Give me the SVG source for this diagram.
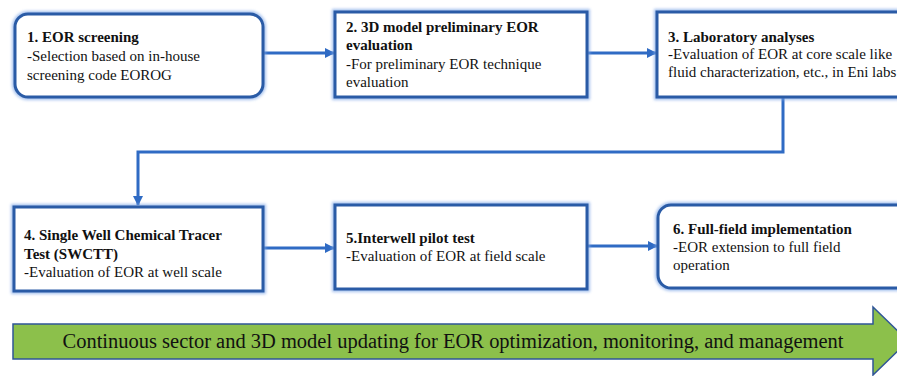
<svg xmlns="http://www.w3.org/2000/svg" width="897" height="376" viewBox="0 0 897 376">
<defs>
<marker id="ah" viewBox="0 0 10 10" refX="9" refY="5" markerWidth="10" markerHeight="10" markerUnits="userSpaceOnUse" orient="auto">
<path d="M0,0 L10,5 L0,10 Z" fill="#2F6BC4"/>
</marker>
<filter id="glow" x="-10%" y="-20%" width="120%" height="140%">
<feGaussianBlur stdDeviation="1.6"/>
</filter>
</defs>
<style>
.box{fill:#fff;stroke:#2A5BA6;stroke-width:3}
.halo{fill:none;stroke:#7EA6E6;stroke-width:6;opacity:0.7}
text{font-family:'Liberation Serif','Tinos','Noto Serif','DejaVu Serif',serif;fill:#111}
.t{font-size:15px}
.b{font-weight:bold}
.conn{fill:none;stroke:#2F6BC4;stroke-width:3}
.big{font-size:20px}
</style>
<rect width="897" height="376" fill="#fff"/>

<g id="connectors">
<line class="conn" x1="264" y1="53" x2="334" y2="53" marker-end="url(#ah)"/>
<line class="conn" x1="588" y1="53" x2="656" y2="53" marker-end="url(#ah)"/>
<polyline class="conn" points="783,98 783,152 138,152 138,205" marker-end="url(#ah)"/>
<line class="conn" x1="264" y1="248" x2="334" y2="248" marker-end="url(#ah)"/>
<line class="conn" x1="588" y1="246" x2="657" y2="246" marker-end="url(#ah)"/>
</g>

<g id="node1">
<rect class="halo" x="15" y="14" width="248" height="83" rx="13" filter="url(#glow)"/>
<rect class="box" x="15" y="14" width="248" height="83" rx="13"/>
<text class="t b" x="27" y="42" font-family="Liberation Serif, serif">1. EOR screening</text>
<text class="t" x="27" y="61">-Selection based on in-house</text>
<text class="t" x="27" y="80">screening code EOROG</text>
</g>

<g id="node2">
<rect class="halo" x="335" y="12" width="252" height="85" filter="url(#glow)"/>
<rect class="box" x="335" y="12" width="252" height="85"/>
<text class="t b" x="346" y="32">2. 3D model preliminary EOR</text>
<text class="t b" x="346" y="50">evaluation</text>
<text class="t" x="346" y="69">-For preliminary EOR technique</text>
<text class="t" x="346" y="87">evaluation</text>
</g>

<g id="node3">
<rect class="halo" x="657" y="12" width="260" height="85" filter="url(#glow)"/>
<rect class="box" x="657" y="12" width="260" height="85"/>
<text class="t b" x="668" y="42">3. Laboratory analyses</text>
<text class="t" x="668" y="59">-Evaluation of EOR at core scale like</text>
<text class="t" x="668" y="77">fluid characterization, etc., in Eni labs</text>
</g>

<g id="node4">
<rect class="halo" x="14" y="207" width="249" height="84" filter="url(#glow)"/>
<rect class="box" x="14" y="207" width="249" height="84"/>
<text class="t b" x="24" y="240">4. Single Well Chemical Tracer</text>
<text class="t b" x="24" y="259">Test (SWCTT)</text>
<text class="t" x="24" y="277">-Evaluation of EOR at well scale</text>
</g>

<g id="node5">
<rect class="halo" x="335" y="205" width="252" height="84" filter="url(#glow)"/>
<rect class="box" x="335" y="205" width="252" height="84"/>
<text class="t b" x="346" y="243">5.Interwell pilot test</text>
<text class="t" x="346" y="261">-Evaluation of EOR at field scale</text>
</g>

<g id="node6">
<rect class="halo" x="658" y="205" width="260" height="83" rx="13" filter="url(#glow)"/>
<rect class="box" x="658" y="205" width="260" height="83" rx="13"/>
<text class="t b" x="673" y="234">6. Full-field implementation</text>
<text class="t" x="673" y="252">-EOR extension to full field</text>
<text class="t" x="673" y="270">operation</text>
</g>

<g id="banner">
<polygon points="13,324 873,324 873,307 908,341 873,375 873,359 13,359" fill="#8CC04B" stroke="#2F5597" stroke-width="1.5"/>
<text class="big" x="453" y="348" text-anchor="middle" textLength="781" lengthAdjust="spacingAndGlyphs">Continuous sector and 3D model updating for EOR optimization, monitoring, and management</text>
</g>
</svg>
